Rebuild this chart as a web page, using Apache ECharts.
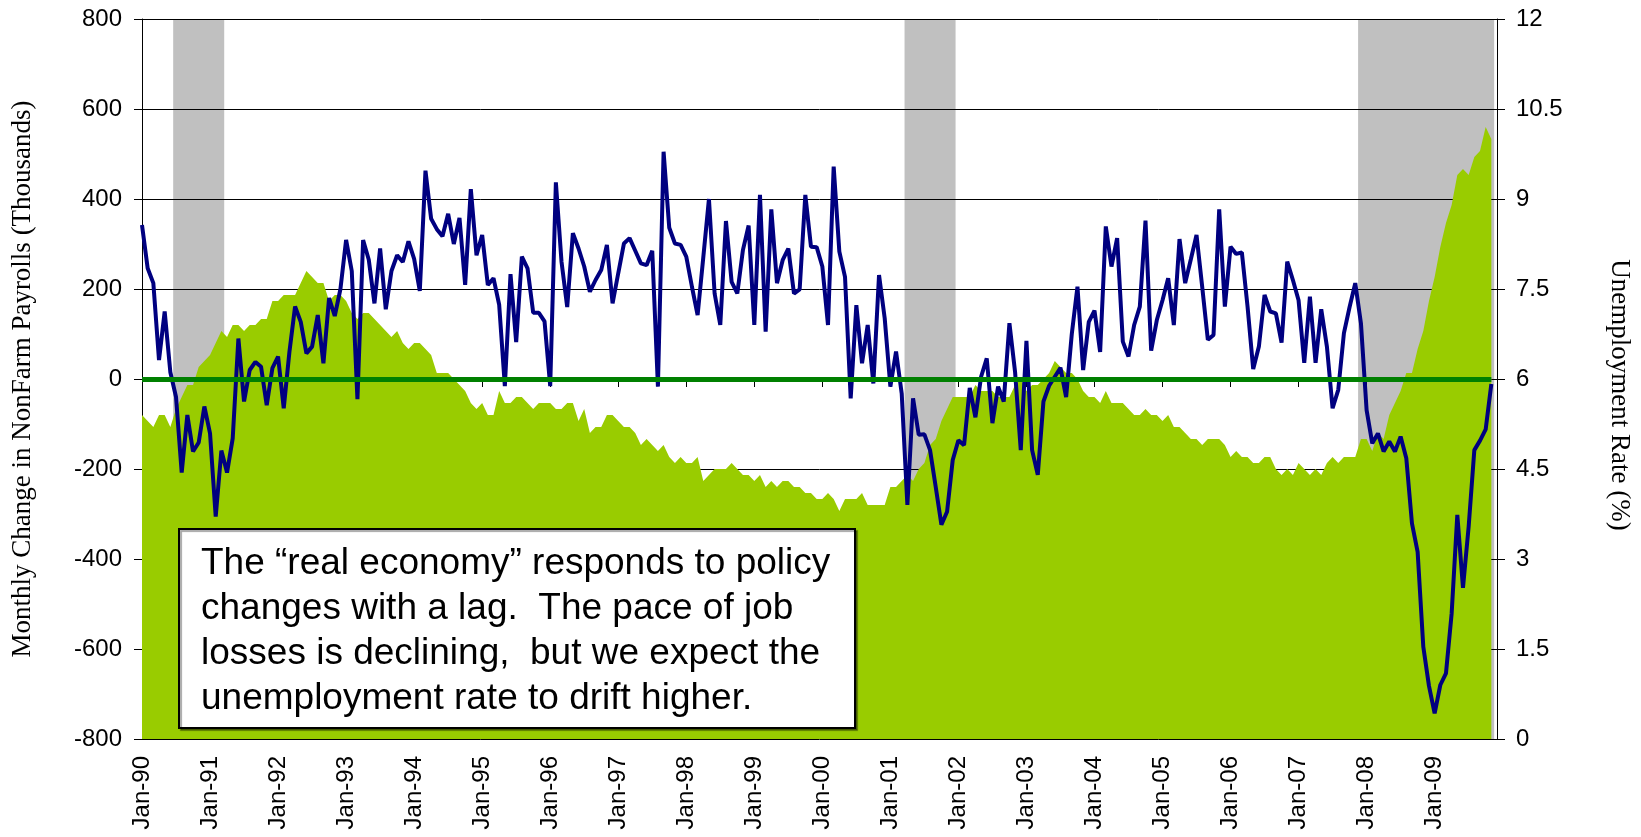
<!DOCTYPE html>
<html>
<head>
<meta charset="utf-8">
<script src="https://cdn.jsdelivr.net/npm/echarts@6/dist/echarts.min.js"></script>
<style>
  html, body { margin: 0; padding: 0; background: #fff; }
  #main { width: 1641px; height: 837px; }
</style>
</head>
<body>
<div id="main"></div>
<script>
// month labels Jan-90 .. Dec-09 (Dec-09 has no data, the axis just runs to it)
var monthNames = ['Jan', 'Feb', 'Mar', 'Apr', 'May', 'Jun', 'Jul', 'Aug', 'Sep', 'Oct', 'Nov', 'Dec'];
var years = ['90', '91', '92', '93', '94', '95', '96', '97', '98', '99',
             '00', '01', '02', '03', '04', '05', '06', '07', '08', '09'];

// monthly change in nonfarm payrolls, thousands (Jan-90 .. Nov-09)
var payrolls = [
  342, 246, 213, 42, 150, 15, -40, -208, -80, -161, -141, -61,
  -121, -306, -159, -208, -132, 90, -50, 20, 38, 27, -58, 24,
  50, -65, 60, 161, 127, 57, 72, 142, 35, 180, 140, 200,
  309, 240, -45, 309, 265, 168, 290, 155, 240, 275, 260, 306,
  267, 196, 463, 356, 333, 317, 367, 300, 358, 209, 422, 275,
  320, 209, 224, 165, -16, 233, 82, 272, 246, 147, 147, 128,
  -16, 437, 260, 160, 324, 290, 250, 194, 220, 242, 298, 168,
  235, 301, 313, 285, 257, 253, 285, -17, 505, 336, 301, 298,
  272, 205, 142, 270, 400, 190, 120, 351, 216, 190, 287, 341,
  120, 409, 105, 377, 213, 264, 290, 190, 199, 409, 294, 293,
  250, 120, 472, 283, 227, -43, 164, 35, 120, -10, 231, 135,
  -17, 61, -32, -280, -43, -124, -123, -158, -240, -324, -295, -180,
  -136, -147, -20, -85, 5, 46, -98, -17, -50, 124, 15, -158,
  85, -158, -213, -50, -15, 5, 25, -40, 100, 205, 20, 127,
  152, 60, 339, 250, 313, 83, 50, 120, 161, 352, 63, 131,
  175, 224, 120, 311, 213, 266, 320, 205, 87, 98, 377, 161,
  294, 278, 281, 161, 22, 72, 187, 150, 146, 81, 261, 220,
  175, 36, 183, 36, 155, 72, -65, -24, 102, 160, 213, 124,
  -69, -143, -121, -161, -139, -161, -128, -176, -321, -384, -595, -682,
  -743, -680, -654, -521, -302, -464, -328, -158, -137, -112, -11
];

// unemployment rate, % (Jan-90 .. Nov-09)
var unemployment = [
  5.4, 5.3, 5.2, 5.4, 5.4, 5.2, 5.5, 5.7, 5.9, 5.9, 6.2, 6.3,
  6.4, 6.6, 6.8, 6.7, 6.9, 6.9, 6.8, 6.9, 6.9, 7.0, 7.0, 7.3,
  7.3, 7.4, 7.4, 7.4, 7.6, 7.8, 7.7, 7.6, 7.6, 7.3, 7.4, 7.4,
  7.3, 7.1, 7.0, 7.1, 7.1, 7.0, 6.9, 6.8, 6.7, 6.8, 6.6, 6.5,
  6.6, 6.6, 6.5, 6.4, 6.1, 6.1, 6.1, 6.0, 5.9, 5.8, 5.6, 5.5,
  5.6, 5.4, 5.4, 5.8, 5.6, 5.6, 5.7, 5.7, 5.6, 5.5, 5.6, 5.6,
  5.6, 5.5, 5.5, 5.6, 5.6, 5.3, 5.5, 5.1, 5.2, 5.2, 5.4, 5.4,
  5.3, 5.2, 5.2, 5.1, 4.9, 5.0, 4.9, 4.8, 4.9, 4.7, 4.6, 4.7,
  4.6, 4.6, 4.7, 4.3, 4.4, 4.5, 4.5, 4.5, 4.6, 4.5, 4.4, 4.4,
  4.3, 4.4, 4.2, 4.3, 4.2, 4.3, 4.3, 4.2, 4.2, 4.1, 4.1, 4.0,
  4.0, 4.1, 4.0, 3.8, 4.0, 4.0, 4.0, 4.1, 3.9, 3.9, 3.9, 3.9,
  4.2, 4.2, 4.3, 4.4, 4.3, 4.5, 4.6, 4.9, 5.0, 5.3, 5.5, 5.7,
  5.7, 5.7, 5.7, 5.9, 5.8, 5.8, 5.8, 5.7, 5.7, 5.7, 5.9, 6.0,
  5.8, 5.9, 5.9, 6.0, 6.1, 6.3, 6.2, 6.1, 6.1, 6.0, 5.8, 5.7,
  5.7, 5.6, 5.8, 5.6, 5.6, 5.6, 5.5, 5.4, 5.4, 5.5, 5.4, 5.4,
  5.3, 5.4, 5.2, 5.2, 5.1, 5.0, 5.0, 4.9, 5.0, 5.0, 5.0, 4.9,
  4.7, 4.8, 4.7, 4.7, 4.6, 4.6, 4.7, 4.7, 4.5, 4.4, 4.5, 4.4,
  4.6, 4.5, 4.4, 4.5, 4.4, 4.6, 4.7, 4.6, 4.7, 4.7, 4.7, 5.0,
  5.0, 4.8, 5.1, 5.0, 5.4, 5.6, 5.8, 6.1, 6.1, 6.5, 6.8, 7.3,
  7.7, 8.2, 8.6, 8.9, 9.4, 9.5, 9.4, 9.7, 9.8, 10.2, 10.0
];

// shaded recession months (first, last)
var recessions = [['Jul-90', 'Mar-91'], ['Apr-01', 'Dec-01'], ['Dec-07', 'Nov-09']];

var note = 'The \u201creal economy\u201d responds to policy\n' +
  'changes with a lag.  The pace of job\n' +
  'losses is declining,  but we expect the\n' +
  'unemployment rate to drift higher.';

var months = [];
years.forEach(function (y) {
  monthNames.forEach(function (m) { months.push(m + '-' + y); });
});

// each shaded month covers half a month either side of its point
var recessionAreas = recessions.map(function (r) {
  return [
    { coord: [months.indexOf(r[0]) - 0.5, 0] },
    { coord: [months.indexOf(r[1]) + 0.5, 12] }
  ];
});

var sans = 'Liberation Sans, Arial, sans-serif';
var serif = 'Liberation Serif, Times New Roman, serif';

var chart = echarts.init(document.getElementById('main'));

var option = {
  animation: false,
  textStyle: { fontFamily: sans },
  grid: { left: 142, right: 144, top: 19, bottom: 98 },
  xAxis: [
    {
      type: 'category',
      data: months,
      boundaryGap: false,
      axisLine: { lineStyle: { color: '#000', width: 1 } },
      axisTick: { interval: 11, length: 8, lineStyle: { color: '#000' } },
      axisLabel: { interval: 11, rotate: 90, margin: 17, fontSize: 24, color: '#000', fontFamily: sans },
      splitLine: { show: false }
    },
    {
      // month index scale, used only to place the recession shading
      type: 'value',
      show: false,
      min: 0,
      max: months.length - 1,
      splitLine: { show: false }
    }
  ],
  yAxis: [
    {
      type: 'value',
      position: 'left',
      min: -800,
      max: 800,
      interval: 200,
      name: 'Monthly Change in NonFarm Payrolls (Thousands)',
      nameLocation: 'middle',
      nameRotate: 90,
      nameGap: 106,
      nameTextStyle: { fontFamily: serif, fontSize: 27, color: '#000' },
      axisLine: { show: true, lineStyle: { color: '#000' } },
      axisTick: { show: true, length: 8, lineStyle: { color: '#000' } },
      axisLabel: { margin: 20, fontSize: 24, color: '#000', fontFamily: sans },
      splitLine: { show: true, lineStyle: { color: '#000', width: 1 } }
    },
    {
      type: 'value',
      position: 'right',
      min: 0,
      max: 12,
      interval: 1.5,
      name: 'Unemployment Rate (%)',
      nameLocation: 'middle',
      nameRotate: -90,
      nameGap: 109,
      nameTextStyle: { fontFamily: serif, fontSize: 27, color: '#000', padding: [0, 0, 0, 32] },
      axisLine: { show: true, lineStyle: { color: '#000' } },
      axisTick: { show: true, length: 8, lineStyle: { color: '#000' } },
      axisLabel: { margin: 19, fontSize: 24, color: '#000', fontFamily: sans },
      splitLine: { show: false }
    }
  ],
  series: [
    {
      name: 'Recession',
      type: 'line',
      xAxisIndex: 1,
      yAxisIndex: 1,
      data: [],
      z: -1,
      markArea: {
        silent: true,
        z: -1,
        itemStyle: { color: '#c0c0c0', opacity: 1 },
        data: recessionAreas
      }
    },
    {
      name: 'Unemployment Rate',
      type: 'line',
      yAxisIndex: 1,
      data: unemployment,
      symbol: 'none',
      lineStyle: { width: 0, color: '#99cc00' },
      itemStyle: { color: '#99cc00' },
      areaStyle: { color: '#99cc00', opacity: 1 },
      z: 2
    },
    {
      name: 'Payrolls',
      type: 'line',
      yAxisIndex: 0,
      data: payrolls,
      symbol: 'none',
      lineStyle: { width: 4, color: '#000080' },
      itemStyle: { color: '#000080' },
      z: 3
    },
    {
      name: 'Zero',
      type: 'line',
      yAxisIndex: 0,
      data: [],
      z: 4,
      markLine: {
        silent: true,
        symbol: 'none',
        label: { show: false },
        lineStyle: { color: '#008000', width: 5, type: 'solid' },
        data: [[{ coord: [months[0], 0] }, { coord: [months[payrolls.length - 1], 0] }]]
      }
    }
  ],
  graphic: [
    {
      type: 'group',
      left: 178,
      top: 528,
      z: 100,
      children: [
        {
          type: 'rect',
          z: 100,
          shape: { x: 0, y: 0, width: 676, height: 199 },
          style: {
            fill: '#fff', stroke: '#000', lineWidth: 2,
            shadowColor: 'rgba(0,0,0,0.35)', shadowOffsetX: 2, shadowOffsetY: 2, shadowBlur: 1
          }
        },
        {
          type: 'text',
          z: 101,
          x: 22,
          y: 12,
          style: { text: note, fontSize: 37, fontFamily: sans, lineHeight: 45, fill: '#000' }
        }
      ]
    }
  ]
};

chart.setOption(option);
</script>
</body>
</html>
